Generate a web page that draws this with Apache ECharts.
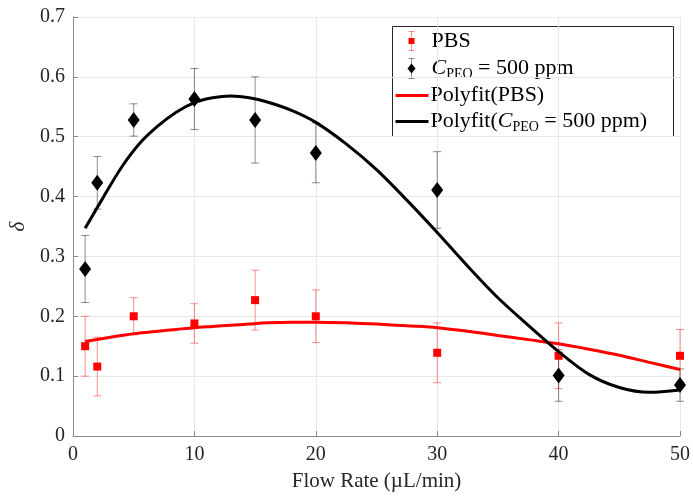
<!DOCTYPE html>
<html>
<head>
<meta charset="utf-8">
<script src="https://cdn.jsdelivr.net/npm/echarts@6/dist/echarts.min.js"></script>
<style>html,body{margin:0;padding:0;background:#fff}#c{width:693px;height:497px}</style>
</head>
<body>
<div id="c"></div>
<script>
// ---- data ----
const flowRate = [1, 2, 5, 10, 15, 20, 30, 40, 50];
const pbsMean  = [0.150, 0.116, 0.200, 0.188, 0.227, 0.200, 0.139, 0.134, 0.134];
const pbsErr   = [0.050, 0.049, 0.031, 0.033, 0.050, 0.044, 0.050, 0.055, 0.044];
const peoMean  = [0.279, 0.423, 0.528, 0.563, 0.528, 0.473, 0.411, 0.101, 0.085];
const peoErr   = [0.056, 0.044, 0.027, 0.051, 0.072, 0.050, 0.064, 0.043, 0.027];

const fitX   = [1, 2.5, 4, 5.5, 7, 8.5, 10, 11.5, 13, 14.5, 16, 18, 20, 22.5, 25, 27.5, 30, 32.5, 35, 37.5, 40, 42.5, 45, 47.5, 50];
const fitPbs = [0.158, 0.163, 0.168, 0.172, 0.175, 0.178, 0.181, 0.183, 0.185, 0.187, 0.189, 0.190, 0.190, 0.189, 0.187, 0.184, 0.181, 0.175, 0.168, 0.161, 0.154, 0.145, 0.135, 0.123, 0.111];
const fitPeo = [0.347, 0.399, 0.449, 0.489, 0.518, 0.541, 0.557, 0.565, 0.568, 0.565, 0.558, 0.544, 0.524, 0.488, 0.445, 0.394, 0.340, 0.284, 0.231, 0.185, 0.141, 0.103, 0.081, 0.073, 0.077];

const xTicks = [0, 10, 20, 30, 40, 50];
const yTicks = ['0', '0.1', '0.2', '0.3', '0.4', '0.5', '0.6', '0.7'];

const FONT = '"Liberation Serif", "DejaVu Serif", serif';
const TXT = '#262626';

function pairs(xs, ys) { return xs.map((x, i) => [x, ys[i]]); }
function errData(xs, m, e) { return xs.map((x, i) => [x, m[i] - e[i], m[i] + e[i]]); }

function errRender(color) {
  return function (params, api) {
    const x = api.value(0);
    const lo = api.coord([x, api.value(1)]);
    const hi = api.coord([x, api.value(2)]);
    const cw = 4;
    const st = { stroke: color, lineWidth: 1 };
    return {
      type: 'group',
      children: [
        { type: 'line', shape: { x1: lo[0], y1: lo[1], x2: hi[0], y2: hi[1] }, style: st },
        { type: 'line', shape: { x1: lo[0] - cw, y1: lo[1], x2: lo[0] + cw, y2: lo[1] }, style: st },
        { type: 'line', shape: { x1: hi[0] - cw, y1: hi[1], x2: hi[0] + cw, y2: hi[1] }, style: st }
      ]
    };
  };
}

const chart = echarts.init(document.getElementById('c'), null, { renderer: 'canvas' });

const LX = 392.5, LY = 26.5;
const redErr = 'rgba(255,0,0,0.45)';
const blkErr = 'rgba(0,0,0,0.45)';
const richLegend = {
  c: { fontFamily: FONT, fontSize: 22, fontStyle: 'italic', fill: '#000', lineHeight: 26 },
  s: { fontFamily: FONT, fontSize: 14, fill: '#000', verticalAlign: 'bottom', lineHeight: 14, padding: [8, 0, 0, 0] },
  n: { fontFamily: FONT, fontSize: 22, fill: '#000', lineHeight: 26 }
};

const option = {
  backgroundColor: '#fff',
  animation: false,
  grid: { left: 73, right: 11, top: 17, bottom: 59, containLabel: false },
  xAxis: {
    type: 'value', min: 0, max: 50, interval: 10,
    name: 'Flow Rate (\u00b5L/min)', nameLocation: 'middle', nameGap: 35,
    nameTextStyle: { fontFamily: FONT, fontSize: 21, color: TXT },
    axisLine: { show: true, lineStyle: { color: '#8a8a8a', width: 1 } },
    axisTick: { show: true, inside: true, length: 5, lineStyle: { color: '#8a8a8a' } },
    axisLabel: { fontFamily: FONT, fontSize: 20, color: TXT, margin: 9,
      formatter: v => xTicks.includes(v) ? String(v) : '' },
    splitLine: { show: true, lineStyle: { color: '#e8e8e8', width: 1 } }
  },
  yAxis: {
    type: 'value', min: 0, max: 0.7, interval: 0.1,
    name: '\u03b4', nameLocation: 'middle', nameGap: 36, nameRotate: 90,
    nameTextStyle: { fontFamily: FONT, fontSize: 21, fontStyle: 'italic', color: TXT },
    axisLine: { show: true, lineStyle: { color: '#8a8a8a', width: 1 } },
    axisTick: { show: true, inside: true, length: 5, lineStyle: { color: '#8a8a8a' } },
    axisLabel: { fontFamily: FONT, fontSize: 20, color: TXT, margin: 8,
      formatter: v => yTicks[Math.round(v * 10)] },
    splitLine: { show: true, lineStyle: { color: '#e8e8e8', width: 1 } }
  },
  series: [
    { name: 'PBS err', type: 'custom', data: errData(flowRate, pbsMean, pbsErr),
      renderItem: errRender(redErr), encode: { x: 0, y: [1, 2] }, z: 2 },
    { name: 'PEO err', type: 'custom', data: errData(flowRate, peoMean, peoErr),
      renderItem: errRender(blkErr), encode: { x: 0, y: [1, 2] }, z: 2 },
    { name: 'PBS', type: 'scatter', data: pairs(flowRate, pbsMean), symbol: 'rect', symbolSize: 8,
      itemStyle: { color: '#ff0000', opacity: 1 }, z: 3 },
    { name: 'PEO', type: 'scatter', data: pairs(flowRate, peoMean), symbol: 'diamond', symbolSize: [12, 16],
      itemStyle: { color: '#000000', opacity: 1 }, z: 3 },
    { name: 'Polyfit(PBS)', type: 'line', data: pairs(fitX, fitPbs), smooth: 0.3, showSymbol: false,
      lineStyle: { color: '#ff0000', width: 3 }, z: 4 },
    { name: 'Polyfit(PEO)', type: 'line', data: pairs(fitX, fitPeo), smooth: 0.3, showSymbol: false,
      lineStyle: { color: '#000000', width: 3 }, z: 5 }
  ],
  graphic: [
    { type: 'group', x: LX, y: LY, z: 100, children: [
      { type: 'rect', shape: { x: 0, y: 0, width: 281, height: 110 },
        style: { fill: '#fff', stroke: '#262626', lineWidth: 1 } },
      // row 1: PBS errorbar icon
      { type: 'line', shape: { x1: 19, y1: 5, x2: 19, y2: 24 }, style: { stroke: redErr, lineWidth: 1 } },
      { type: 'line', shape: { x1: 16, y1: 5, x2: 22, y2: 5 }, style: { stroke: redErr, lineWidth: 1 } },
      { type: 'line', shape: { x1: 16, y1: 24, x2: 22, y2: 24 }, style: { stroke: redErr, lineWidth: 1 } },
      { type: 'rect', shape: { x: 16, y: 11.5, width: 6, height: 6 }, style: { fill: '#ff0000' } },
      { type: 'text', x: 39, y: 15, style: { text: 'PBS', font: '22px ' + FONT, fill: '#000', verticalAlign: 'middle' } },
      // row 2: PEO errorbar icon
      { type: 'line', shape: { x1: 19, y1: 32, x2: 19, y2: 52 }, style: { stroke: blkErr, lineWidth: 1 } },
      { type: 'line', shape: { x1: 16, y1: 32, x2: 22, y2: 32 }, style: { stroke: blkErr, lineWidth: 1 } },
      { type: 'line', shape: { x1: 16, y1: 52, x2: 22, y2: 52 }, style: { stroke: blkErr, lineWidth: 1 } },
      { type: 'polygon', shape: { points: [[19, 37], [23, 42], [19, 47], [15, 42]] }, style: { fill: '#000' } },
      { type: 'text', x: 39, y: 42, style: {
        text: '{c|C}{s|PEO}{n| = 500 ppm}', verticalAlign: 'middle', fill: '#000', rich: richLegend } },
      // row 3: red line
      { type: 'line', shape: { x1: 3, y1: 69, x2: 36, y2: 69 }, style: { stroke: '#ff0000', lineWidth: 3 } },
      { type: 'text', x: 38, y: 69, style: { text: 'Polyfit(PBS)', font: '22px ' + FONT, fill: '#000', verticalAlign: 'middle' } },
      // row 4: black line
      { type: 'line', shape: { x1: 3, y1: 95, x2: 36, y2: 95 }, style: { stroke: '#000', lineWidth: 3 } },
      { type: 'text', x: 38, y: 95, style: {
        text: '{n|Polyfit(}{c|C}{s|PEO}{n| = 500 ppm)}', verticalAlign: 'middle', fill: '#000', rich: richLegend } }
    ] }
  ]
};
chart.setOption(option);
</script>
</body>
</html>
